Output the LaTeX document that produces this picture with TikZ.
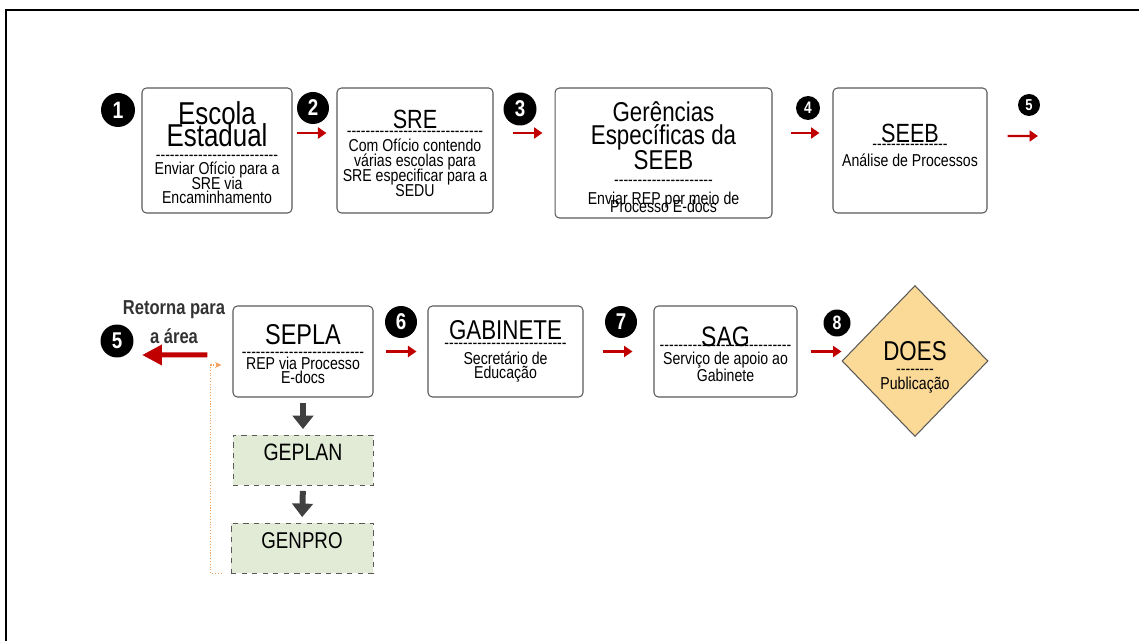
\documentclass[tikz,border=0pt]{standalone}
\usepackage{fontspec}
\setmainfont{Liberation Sans}[FakeStretch=0.82]
\usepackage{xcolor}
\usetikzlibrary{positioning,shapes.geometric,arrows.meta}

\definecolor{flowred}{HTML}{C00000}
\definecolor{boxline}{HTML}{595959}
\definecolor{planfill}{HTML}{E2EBD6}
\definecolor{doesfill}{HTML}{FBD996}
\definecolor{loopcol}{HTML}{F4A460}
\definecolor{darkarrow}{HTML}{404040}
\definecolor{backtext}{HTML}{333333}

\newcommand\stepdashes[1]{\foreach \k in {1,...,#1}{-\kern0pt}}
\newcommand\steptitle[2]{{\fontsize{#1}{#1}\selectfont #2}}
\newcommand\tightlines{\lineskiplimit=-50pt\relax}

\begin{document}
\begin{tikzpicture}
  [x=0.02cm,y=-0.02cm,
   every node/.style={font=\fontsize{9.8}{8.2}\selectfont\tightlines,align=center,inner sep=1pt},
   stepbox/.style={draw=boxline,rounded corners=2.5pt,line width=0.6pt,minimum height=2.5cm},
   rowbox/.style={draw=boxline,rounded corners=2.5pt,line width=0.6pt,minimum height=1.82cm},
   planbox/.style={draw=boxline,dashed,fill=planfill,line width=0.5pt,minimum height=1cm},
   stepnum/.style={circle,fill=black,text=white,inner sep=0pt,font=\bfseries\fontsize{#1}{#1}\selectfont},
   flowarrow/.style={draw=flowred,line width=1.3pt,-{Triangle[width=2.2mm,length=1.7mm]}},
   backflow/.style={draw=flowred,line width=1mm,-{Triangle[width=3.9mm,length=4mm]}},
   downarrow/.style={draw=darkarrow,line width=1.2mm,-{Triangle[width=4.1mm,length=2.7mm]}},
   loopback/.style={draw=loopcol,densely dotted,line width=0.6pt,-{Stealth[length=1.3mm,width=1.2mm]}}]
  \useasboundingbox (0,0) rectangle (1139,641);
  \draw[line width=1.2pt] (1139,10) -- (6,10) -- (6,641);

  % first row
  \node[stepnum=13.5,minimum size=0.68cm] (n1) at (118,110) {1};
  \node[stepbox,minimum width=3cm,text height=60.7pt] (escola) at (217,150.5)
    {\steptitle{18}{Escola}\\[4.5pt]\steptitle{18}{Estadual}\\[-0.5pt]\stepdashes{26}\\Enviar Ofício para a\\SRE via\\Encaminhamento};
  \node[stepnum=13,minimum size=0.64cm] (n2) at (313,108) {2};
  \node[stepbox,minimum width=3.12cm,text height=53pt] (sre) at (415,150.5)
    {\steptitle{15}{SRE}\\[-3.8pt]\stepdashes{29}\\[0.2pt]Com Ofício contendo\\[0.5pt]várias escolas para\\[0.5pt]SRE especificar para a\\[0.5pt]SEDU};
  \node[stepnum=13,minimum size=0.66cm] (n3) at (520,109) {3};
  \node[stepbox,minimum width=4.34cm,minimum height=2.6cm,text height=68pt] (ger) at (663.5,153)
    {\steptitle{15.5}{Gerências}\\[5pt]\steptitle{15.5}{Específicas da}\\[6pt]\steptitle{15.5}{SEEB}\\[0.8pt]\stepdashes{21}\\[2.7pt]Enviar REP por meio de\\[-3.5pt]Processo E-docs};
  \node[stepnum=9.5,minimum size=0.48cm] (n4) at (808,108) {4};
  \node[stepbox,minimum width=3.08cm,text depth=6.2pt] (seeb) at (910,150.5)
    {\steptitle{15}{SEEB}\\[-4.2pt]\stepdashes{16}\\[1.7pt]Análise de Processos};
  \node[stepnum=9,minimum size=0.44cm] (n5) at (1029,105) {5};
  \coordinate (out5) at (1038,136);

  % second row
  \node[font=\bfseries\fontsize{11.5}{16.5}\selectfont,text=backtext] (back) at (174,322) {Retorna para\\a área};
  \node[stepnum=13,minimum size=0.66cm] (n5b) at (117,341) {5};
  \coordinate (back end) at (142,355);
  \node[rowbox,minimum width=2.8cm,text height=37pt] (sepla) at (303,351.5)
    {\steptitle{16.3}{SEPLA}\\[-1pt]\stepdashes{26}\\[-1.1pt]REP via Processo\\E-docs};
  \node[stepnum=13,minimum size=0.64cm] (n6) at (401,322) {6};
  \node[rowbox,minimum width=3.1cm] (gab) at (505.5,351.5)
    {\steptitle{15.5}{GABINETE}\\[-3.2pt]\stepdashes{26}\\[0.7pt]Secretário de\\Educação};
  \node[stepnum=13,minimum size=0.64cm] (n7) at (621,322) {7};
  \node[rowbox,minimum width=2.86cm,text height=34.7pt] (sag) at (725.5,351.5)
    {\steptitle{16}{SAG}\\[-5.4pt]\stepdashes{28}\\[-0.6pt]Serviço de apoio ao\\[1.8pt]Gabinete};
  \node[stepnum=11,minimum size=0.54cm] (n8) at (837,323) {8};
  \node[diamond,draw=boxline,fill=doesfill,line width=0.6pt,minimum width=2.92cm,minimum height=3.02cm,inner sep=0pt,text height=34.8pt] (does) at (915,361)
    {\steptitle{15.5}{DOES}\\\stepdashes{8}\\[0.5pt]Publicação};
  \node[planbox,minimum width=2.8cm,text depth=9pt] (geplan) at (303,460) {\steptitle{13.5}{GEPLAN}};
  \node[planbox,minimum width=2.84cm,text depth=9pt] (genpro) at (302,548) {\steptitle{13}{GENPRO}};

  % connectors
  \foreach \from/\to/\dy/\s/\e in {escola/sre/3.5mm/0.8mm/2mm, sre/ger/3.5mm/3.8mm/2.4mm,
      ger/seeb/4mm/3.6mm/2.6mm, sepla/gab/0mm/2.4mm/2.2mm, gab/sag/0mm/3.8mm/4.2mm, sag/does/0mm/2.6mm/0mm}
    \draw[flowarrow,shorten <=\s,shorten >=\e] ([yshift=\dy]\from.east) -- ([yshift=\dy]\from.east -| \to.west);
  \draw[flowarrow,shorten <=4mm] ([yshift=2.9mm]seeb.east) -- (out5);
  \draw[backflow,shorten <=5mm] ([yshift=-0.7mm]sepla.west) -- (back end);
  \foreach \from/\to in {sepla/geplan,geplan/genpro}
    \draw[downarrow,shorten <=1.1mm,shorten >=1.1mm] (\from.south) -- (\to.north);
  \draw[loopback,shorten >=2.2mm] ([xshift=-1.8mm]genpro.south west) -- ++(-11,0) |- ([yshift=-2.7mm]sepla.west);
\end{tikzpicture}
\end{document}
